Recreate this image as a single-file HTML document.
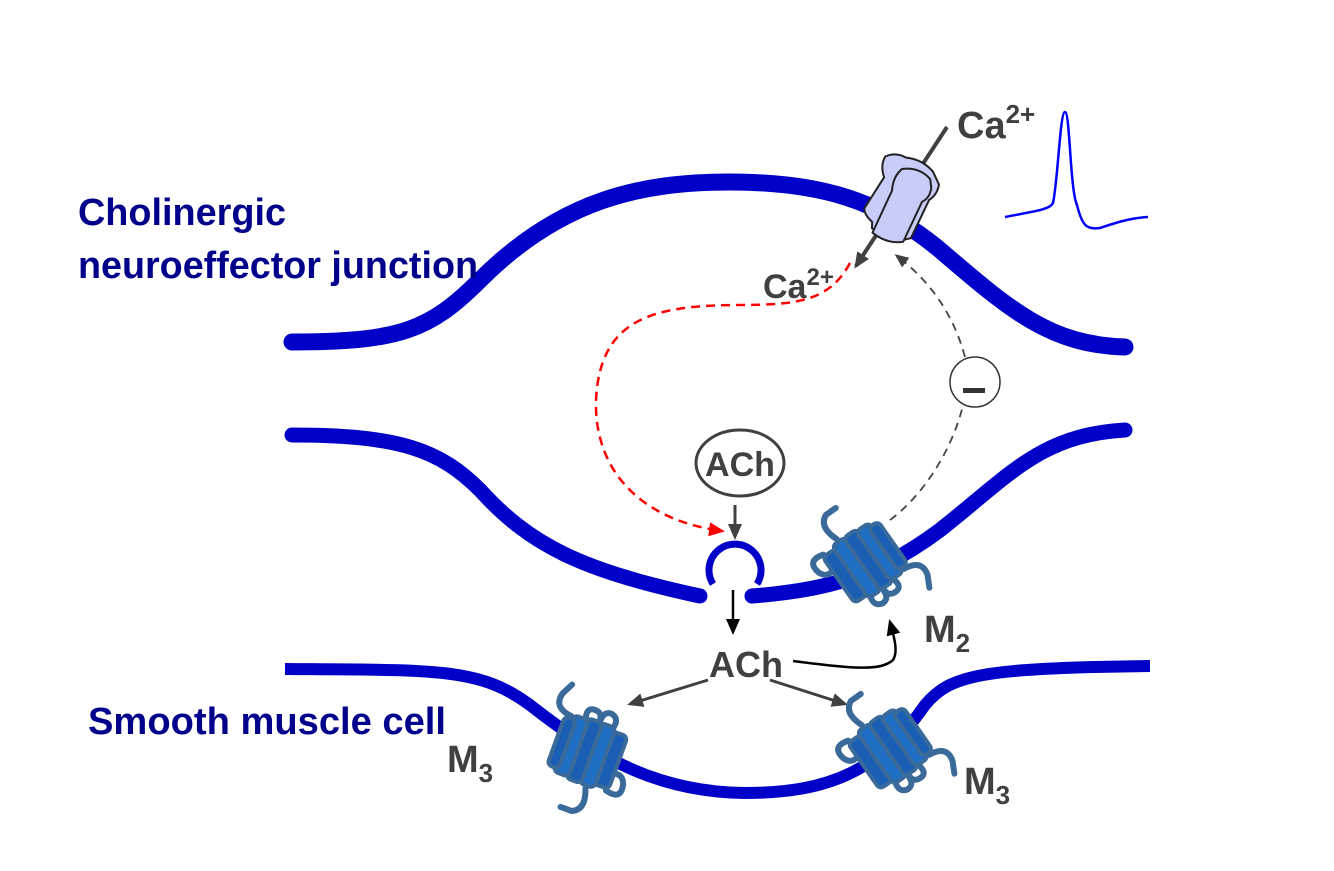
<!DOCTYPE html>
<html><head><meta charset="utf-8"><style>html,body{margin:0;padding:0;background:#fff}svg{display:block}</style></head>
<body>
<svg width="1334" height="871" viewBox="0 0 1334 871" xmlns="http://www.w3.org/2000/svg" font-family="Liberation Sans, Arial, sans-serif">
<defs>
<marker id="ag" markerWidth="16" markerHeight="14" refX="13" refY="7" orient="auto" markerUnits="userSpaceOnUse"><path d="M0,0 L16,7 L0,14 z" fill="#404040"/></marker>
<marker id="ab" markerWidth="16" markerHeight="14" refX="13" refY="7" orient="auto" markerUnits="userSpaceOnUse"><path d="M0,0 L16,7 L0,14 z" fill="#000"/></marker>
<marker id="ar" markerWidth="16" markerHeight="14" refX="13" refY="7" orient="auto" markerUnits="userSpaceOnUse"><path d="M0,0 L16,7 L0,14 z" fill="#f00"/></marker>
<marker id="ad" markerWidth="14" markerHeight="12" refX="11" refY="6" orient="auto" markerUnits="userSpaceOnUse"><path d="M0,0 L14,6 L0,12 z" fill="#404040"/></marker>
<g id="rec">
  <path d="M-30,-30 q-18,-5 -14,12 q4,10 14,6" fill="none" stroke="#3a6a9a" stroke-width="6" stroke-linecap="round"/>
  <path d="M-10,-35 q-8,-20 5,-26 l12,0" fill="none" stroke="#3a6a9a" stroke-width="6" stroke-linecap="round"/>
  <path d="M28,28 q20,2 16,18 l-6,12" fill="none" stroke="#3a6a9a" stroke-width="6" stroke-linecap="round"/>
  <path d="M-15,30 q-4,12 6,14 q8,0 8,-10" fill="none" stroke="#3a6a9a" stroke-width="6" stroke-linecap="round"/>
  <path d="M0,30 q-2,12 8,12 q8,0 6,-10" fill="none" stroke="#3a6a9a" stroke-width="6" stroke-linecap="round"/>
  <rect x="-32" y="-28" width="16" height="56" rx="5" fill="#1a5fb4" stroke="#3a6a9a" stroke-width="4"/>
  <rect x="-18" y="-32" width="16" height="64" rx="5" fill="#1f6fc4" stroke="#3a6a9a" stroke-width="4"/>
  <rect x="-4" y="-32" width="16" height="64" rx="5" fill="#1a5fb4" stroke="#3a6a9a" stroke-width="4"/>
  <rect x="10" y="-30" width="16" height="60" rx="5" fill="#1f6fc4" stroke="#3a6a9a" stroke-width="4"/>
  <rect x="22" y="-26" width="12" height="52" rx="5" fill="#1a5fb4" stroke="#3a6a9a" stroke-width="4"/>
</g>
</defs>

<!-- membranes -->
<path d="M292,342 C400,342 430,330 480,280 C560,200 640,182 730,182 C820,182 880,200 940,250 C1010,310 1050,345 1125,347" fill="none" stroke="#0000c8" stroke-width="17" stroke-linecap="round"/>
<path d="M292,435 C400,435 440,450 480,490 C530,545 580,570 700,596" fill="none" stroke="#0000c8" stroke-width="15" stroke-linecap="round"/>
<path d="M752,596 C830,590 880,575 940,530 C1010,475 1040,435 1125,430" fill="none" stroke="#0000c8" stroke-width="15" stroke-linecap="round"/>
<path d="M713,584 A26,26 0 1 1 757,584" fill="none" stroke="#0000c8" stroke-width="7"/>
<path d="M285,669 C440,670 480,668 530,705 C600,760 660,792 745,793 C830,793 880,770 925,705 C950,675 980,668 1150,666" fill="none" stroke="#0000c8" stroke-width="12"/>

<!-- spike -->
<path d="M1005,217 C1030,212 1050,210 1053,203 C1058,180 1060,112 1065,112 C1070,112 1070,190 1077,205 C1082,225 1086,230 1100,228 C1115,223 1130,218 1148,217" fill="none" stroke="#0000ff" stroke-width="2.5"/>

<!-- channel arrow -->
<line x1="947" y1="127" x2="856" y2="266" stroke="#404040" stroke-width="4" marker-end="url(#ag)"/>
<g transform="translate(900,198) rotate(20)">
  <path d="M-28,-34 q8,-8 20,-6 q16,-4 30,4 l10,10 q2,10 -4,18 l-4,42 q-16,12 -40,4 l-2,-6 q-10,-4 -12,-10 l8,-36 q-8,-10 -6,-20 z" fill="#c8ccf8" stroke="#222" stroke-width="2" stroke-linejoin="round"/>
  <path d="M-8,-28 q16,-8 30,0 l4,8 q2,10 -4,16 l-4,44 q-14,8 -32,2 l4,-46 q-4,-14 2,-24 z" fill="#c8ccf8" stroke="#222" stroke-width="2" stroke-linejoin="round"/>
</g>

<!-- red dashed -->
<path d="M850,263 C830,300 800,305 740,305 C650,305 600,320 596,400 C594,470 640,520 722,531" fill="none" stroke="#f00" stroke-width="2.5" stroke-dasharray="9,6" marker-end="url(#ar)"/>
<!-- grey dashed -->
<path d="M890,520 C930,490 955,440 963,405 M965,357 C955,320 935,285 897,256" fill="none" stroke="#444" stroke-width="1.8" stroke-dasharray="8,6" marker-end="url(#ad)"/>
<ellipse cx="975" cy="382" rx="25" ry="25" fill="#fff" stroke="#333" stroke-width="1.5"/>
<rect x="963" y="388" width="22" height="5" fill="#333"/>

<!-- ACh oval -->
<ellipse cx="740" cy="463" rx="44" ry="33" fill="#fff" stroke="#404040" stroke-width="3"/>
<text x="740" y="476" font-size="34" font-weight="bold" fill="#404040" text-anchor="middle">ACh</text>
<line x1="735" y1="505" x2="735" y2="537" stroke="#404040" stroke-width="3" marker-end="url(#ag)"/>
<line x1="733" y1="590" x2="733" y2="632" stroke="#000" stroke-width="2.5" marker-end="url(#ab)"/>

<text x="746" y="677" font-size="36" font-weight="bold" fill="#404040" text-anchor="middle">ACh</text>
<line x1="708" y1="680" x2="630" y2="704" stroke="#404040" stroke-width="3" marker-end="url(#ag)"/>
<line x1="770" y1="680" x2="845" y2="704" stroke="#404040" stroke-width="3" marker-end="url(#ag)"/>
<path d="M793,661 C850,668 880,672 893,660 C898,652 895,640 890,622" fill="none" stroke="#000" stroke-width="2.5" marker-end="url(#ab)"/>

<!-- receptors -->
<use href="#rec" transform="translate(865,562) rotate(-35)"/>
<use href="#rec" transform="translate(588,752) rotate(200)"/>
<use href="#rec" transform="translate(890,748) rotate(-35)"/>

<!-- labels -->
<text x="957" y="138" font-size="38" font-weight="bold" fill="#404040">Ca<tspan font-size="26" dy="-15">2+</tspan></text>
<text x="763" y="298" font-size="34" font-weight="bold" fill="#404040">Ca<tspan font-size="24" dy="-13">2+</tspan></text>
<text x="924" y="642" font-size="38" font-weight="bold" fill="#404040">M<tspan font-size="26" dy="10">2</tspan></text>
<text x="447" y="772" font-size="38" font-weight="bold" fill="#404040">M<tspan font-size="26" dy="10">3</tspan></text>
<text x="964" y="794" font-size="38" font-weight="bold" fill="#404040">M<tspan font-size="26" dy="10">3</tspan></text>
<text x="78" y="225" font-size="38" font-weight="bold" fill="#00008b" textLength="208" lengthAdjust="spacingAndGlyphs">Cholinergic</text>
<text x="78" y="278" font-size="38" font-weight="bold" fill="#00008b" textLength="400" lengthAdjust="spacingAndGlyphs">neuroeffector junction</text>
<text x="88" y="734" font-size="38" font-weight="bold" fill="#00008b" textLength="358" lengthAdjust="spacingAndGlyphs">Smooth muscle cell</text>
</svg>
</body></html>
